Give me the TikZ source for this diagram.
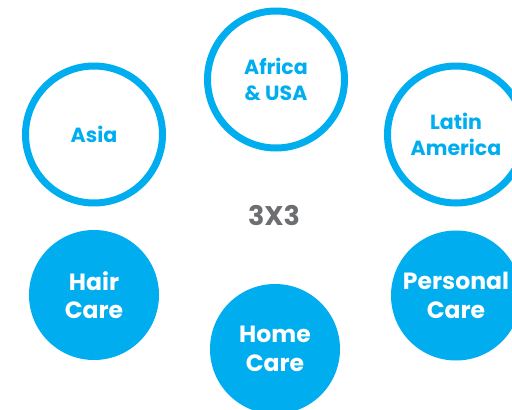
\documentclass[tikz,border=0pt]{standalone}
\usepackage{fontspec}
\setmainfont{Poppins}
\definecolor{cblue}{HTML}{00AEEF}
\definecolor{cgray}{HTML}{6D6E71}
\tikzset{
  ring/.style={circle, draw=cblue, line width=7pt, fill=white, minimum size=137pt, inner sep=0pt, outer sep=0pt,
    text=cblue, align=center, font=\fontsize{20.5}{26}\selectfont\bfseries},
  disc/.style={circle, fill=cblue, minimum size=130pt, inner sep=0pt, outer sep=0pt,
    text=white, align=center, font=\fontsize{23.5}{28.5}\selectfont\bfseries},
  centre/.style={text=cgray, font=\fontsize{27}{30}\selectfont\bfseries, inner sep=0pt}
}
\begin{document}
\begin{tikzpicture}[x=1pt,y=-1pt]
\useasboundingbox (0,0) rectangle (512,410);
\clip (0,0) rectangle (512,410);
\node[ring] (asia) at (94,134.5) {Asia};
\node[ring] (africa) at (276,79.5) {Africa\\\& USA};
\node[ring] (latin) at (456,134.5) {Latin\\America};
\node[centre] (three) at (274,215) {3X3};
\node[disc] (hair) at (94,295) {Hair\\Care};
\node[disc] (home) at (275,349) {Home\\Care};
\node[disc] (personal) at (456,295.5) {Personal\\Care};
\end{tikzpicture}
\end{document}
